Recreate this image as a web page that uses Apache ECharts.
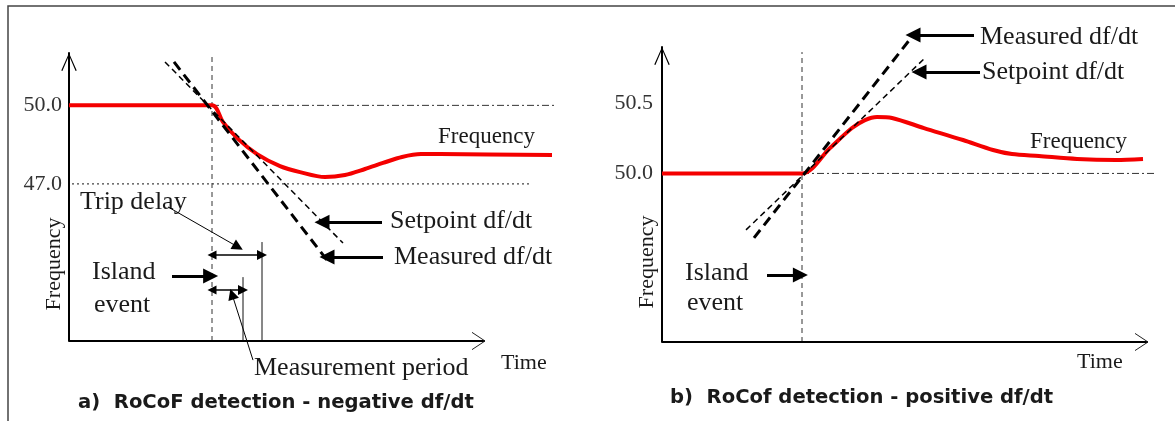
<!DOCTYPE html>
<html>
<head>
<meta charset="utf-8">
<script src="https://cdn.jsdelivr.net/npm/echarts@6/dist/echarts.min.js"></script>
<style>
html, body { margin: 0; padding: 0; background: #fff; }
#main { width: 1175px; height: 421px; }
</style>
</head>
<body>
<div id="main"></div>
<script>
// a) negative df/dt  (time in arbitrary units, frequency in Hz)
var timeA = [0, 35.75, 38.5, 42.25, 47, 52.75, 57.75, 64, 69, 74, 78.5, 83.25, 88, 92.75, 120.75];
var freqA = [50, 50, 49.36, 48.72, 48.14, 47.68, 47.45, 47.26, 47.34, 47.57, 47.8, 48.03, 48.14, 48.14, 48.1];
var measuredA = [[26.25, 51.66], [64.5, 44.09]];
var setpointA = [[24, 51.66], [68.5, 44.74]];
var islandA = 35.75;      // island event
var tripA = 48.25;        // end of trip delay
var periodA = 43.5;       // end of measurement period
var ticksA = [47, 50];

// b) positive df/dt
var timeB = [0, 35, 42, 47.5, 50.75, 53.75, 57.5, 65.5, 75.25, 82.75, 87.5, 94.25, 103.75, 113.5, 120.25];
var freqB = [50, 50, 50.181, 50.323, 50.38, 50.402, 50.395, 50.323, 50.238, 50.167, 50.138, 50.124, 50.103, 50.096, 50.103];
var measuredB = [[23, 49.541], [62.25, 50.964]];
var setpointB = [[21, 49.598], [66, 50.829]];
var islandB = 35;
var ticksB = [50, 50.5];

var serif = '"Liberation Serif", "Times New Roman", serif';
var ink = '#1a1a1a';
var chevron = 'path://M0,18 L8,0 L16,18 L14.8,18.6 L8,2.6 L1.2,18.6 Z';

function zip(xs, ys) {
	return xs.map(function (x, i) { return [x, ys[i]]; });
}

// x axes are only scales here, their line and arrow are drawn as series
function xAxisOf(gi, max) {
	return {
		gridIndex: gi, type: 'value', min: 0, max: max,
		axisLine: { show: false }, axisTick: { show: false },
		axisLabel: { show: false }, splitLine: { show: false }
	};
}

function yAxisOf(gi, min, max, step, ticks, margin) {
	return {
		gridIndex: gi, type: 'value', min: min, max: max, interval: step,
		axisLine: { show: true, onZero: false, lineStyle: { color: '#000', width: 2 },
			symbol: ['none', chevron], symbolSize: [16, 18], symbolOffset: [0, -9] },
		axisTick: { show: false }, splitLine: { show: false },
		axisLabel: {
			margin: margin, fontFamily: serif, fontSize: 22, color: '#333',
			formatter: function (v) {
				for (var i = 0; i < ticks.length; i++) {
					if (Math.abs(v - ticks[i]) < 1e-6) return ticks[i].toFixed(1);
				}
				return '';
			}
		}
	};
}

function seg(gi, data, style, z) {
	return {
		type: 'line', xAxisIndex: gi, yAxisIndex: gi, data: data, symbol: 'none',
		clip: false, silent: true, lineStyle: style, z: z || 2
	};
}

function arrows(gi, list, width, size, both) {
	return {
		type: 'lines', coordinateSystem: 'cartesian2d', xAxisIndex: gi, yAxisIndex: gi,
		clip: false, silent: true, z: 6,
		symbol: both ? ['triangle', 'triangle'] : ['none', 'triangle'],
		symbolSize: size,
		lineStyle: { color: '#000', width: width, opacity: 1, curveness: 0 },
		data: list.map(function (c) { return { coords: c }; })
	};
}

function txt(x, y, s, size, rot) {
	return {
		type: 'text', x: x, y: y, rotation: rot || 0, silent: true,
		style: { text: s, fontFamily: serif, fontSize: size, fill: ink,
			textAlign: rot ? 'center' : 'left', align: rot ? 'center' : 'left',
			textVerticalAlign: 'middle', verticalAlign: 'middle' }
	};
}

function caption(x, y, s) {
	return {
		type: 'text', x: x, y: y, silent: true,
		style: { text: s, fontFamily: '"DejaVu Sans", Verdana, sans-serif', fontWeight: 'bold',
			fontSize: 19.6, fill: ink, textAlign: 'left', align: 'left',
			textVerticalAlign: 'middle', verticalAlign: 'middle' }
	};
}

var dashDot = { color: '#333', width: 1, type: [7, 3, 2, 3] };
var dotted = { color: '#444', width: 1.2, type: [2, 3] };
var vDash = { color: '#333', width: 1, type: [5, 4] };
var thin = { color: '#111', width: 1 };
var red = { color: '#f40000', width: 4 };
var thickDash = { color: '#000', width: 3, type: [10, 6] };
var thinDash = { color: '#000', width: 1.5, type: [6, 4] };
var axisStyle = { color: '#000', width: 2 };
var chevStyle = { color: '#222', width: 1 };

var option = {
	animation: false,
	backgroundColor: '#fff',
	grid: [
		{ left: 69, top: 53, width: 492, height: 288, outerBoundsMode: 'none' },
		{ left: 662, top: 47, width: 492, height: 295, outerBoundsMode: 'none' }
	],
	xAxis: [xAxisOf(0, 123), xAxisOf(1, 123)],
	yAxis: [yAxisOf(0, 41, 52, 1, ticksA, 7), yAxisOf(1, 48.8, 50.9, 0.1, ticksB, 9)],
	series: [
		// panel a
		seg(0, [[0, 41], [104, 41]], axisStyle, 5),
		seg(0, [[100.75, 41.33], [104, 41], [100.75, 40.67]], chevStyle, 5),
		seg(0, [[islandA, 50], [122, 50]], dashDot),
		seg(0, [[0.75, 47], [115.25, 47]], dotted),
		seg(0, [[islandA, 41], [islandA, 52]], vDash),
		seg(0, [[tripA, 41], [tripA, 44.78]], thin),
		seg(0, [[periodA, 41], [periodA, 43.44]], thin),
		{
			type: 'line', xAxisIndex: 0, yAxisIndex: 0, data: zip(timeA, freqA),
			symbol: 'none', smooth: 0.3, clip: false, silent: true, lineStyle: red, z: 3
		},
		seg(0, setpointA, thinDash, 4),
		seg(0, measuredA, thickDash, 4),
		arrows(0, [
			[[78.25, 45.54], [63.25, 45.54]],
			[[78.5, 44.21], [64.5, 44.21]],
			[[25.75, 43.48], [35.4, 43.48]]
		], 3, [14, 15]),
		arrows(0, [
			[[24.75, 46.12], [42.25, 44.59]],
			[[46, 40.27], [40.75, 42.79]]
		], 1, [9, 11]),
		arrows(0, [
			[[islandA, 44.28], [tripA, 44.28]],
			[[islandA, 42.95], [periodA, 42.95]]
		], 1.5, [9, 10], true),

		// panel b
		seg(1, [[0, 48.8], [121.5, 48.8]], axisStyle, 5),
		seg(1, [[118.25, 48.861], [121.5, 48.8], [118.25, 48.739]], chevStyle, 5),
		seg(1, [[islandB, 50], [123, 50]], dashDot),
		seg(1, [[islandB, 48.8], [islandB, 50.864]], vDash),
		{
			type: 'line', xAxisIndex: 1, yAxisIndex: 1, data: zip(timeB, freqB),
			symbol: 'none', smooth: 0.3, clip: false, silent: true, lineStyle: red, z: 3
		},
		seg(1, setpointB, thinDash, 4),
		seg(1, measuredB, thickDash, 4),
		arrows(1, [
			[[78, 50.985], [62.75, 50.985]],
			[[79.5, 50.722], [64.25, 50.722]],
			[[26.25, 49.277], [34.6, 49.277]]
		], 3, [14, 15])
	],
	graphic: {
		elements: [
			{ type: 'polyline', silent: true, shape: { points: [[8, 421], [8, 6], [1175, 6]] },
				style: { stroke: '#444', lineWidth: 1.5, fill: 'none' } },
			// panel a texts
			txt(54, 264, 'Frequency', 22, Math.PI / 2),
			txt(438, 137, 'Frequency', 23),
			txt(80, 202, 'Trip delay', 26),
			txt(390, 221, 'Setpoint df/dt', 26),
			txt(394, 257, 'Measured df/dt', 26),
			txt(92, 272, 'Island', 26),
			txt(94, 305, 'event', 26),
			txt(254, 368, 'Measurement period', 26),
			txt(501, 363, 'Time', 22),
			caption(78, 403, 'a)  RoCoF detection - negative df/dt'),
			// panel b texts
			txt(647, 262, 'Frequency', 22, Math.PI / 2),
			txt(980, 37, 'Measured df/dt', 26),
			txt(982, 72, 'Setpoint df/dt', 26),
			txt(1030, 142, 'Frequency', 23),
			txt(685, 273, 'Island', 26),
			txt(687, 303, 'event', 26),
			txt(1077, 362, 'Time', 22),
			caption(670, 398, 'b)  RoCof detection - positive df/dt')
		]
	}
};

var chart = echarts.init(document.getElementById('main'), null, { renderer: 'canvas' });
chart.setOption(option);
</script>
</body>
</html>
